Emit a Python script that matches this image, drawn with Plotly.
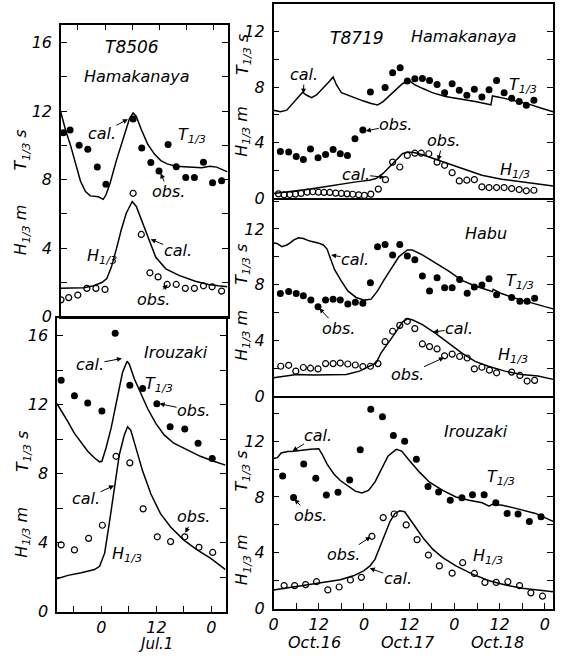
import plotly.graph_objects as go

W, H = 563, 659

# ---------------- DATA ----------------
# T8506 Hamakanaya (hours from Jul.1 00h)
l1_t_obs_h = [-9.2, -7.7, -5.7, -3.8, -1.7, 0.2, 6.2, 8.1, 10.1, 11.9, 13.9, 15.7, 17.8, 19.7, 21.7, 23.7, 25.7]
l1_t_obs = [10.74, 10.89, 10.0, 9.78, 8.73, 7.73, 11.54, 9.84, 9.0, 8.5, 10.05, 8.75, 8.13, 8.13, 9.01, 7.81, 7.94]
l1_t_cal_h = [-9.8, -8.7, -7.6, -6.5, -5.4, -4.3, -3.25, -1.45, -0.4, 0.2, 1.1, 2.5, 4.0, 5.4, 6.2, 6.9, 8.0, 9.4, 10.9, 12.3, 13.7, 15.6, 18.4, 21.3, 23.1, 24.6, 27.0]
l1_t_cal = [12.0, 10.9, 10.0, 8.9, 7.9, 7.3, 7.05, 7.0, 6.85, 7.1, 7.77, 9.11, 10.45, 11.56, 11.89, 11.69, 10.93, 10.07, 9.49, 9.11, 8.92, 8.78, 8.73, 8.69, 8.78, 8.73, 8.45]
l1_h_cal_h = [-9.8, -7.6, -4.7, -2.5, -0.7, 0.4, 1.4, 2.5, 3.6, 4.7, 6.0, 6.9, 8.3, 9.8, 11.2, 13.4, 16.3, 19.9, 22.8, 25.0, 27.0]
l1_h_cal = [1.65, 1.65, 1.68, 1.80, 1.99, 2.22, 2.89, 3.94, 5.09, 6.05, 6.72, 6.43, 5.47, 4.33, 3.46, 2.79, 2.41, 2.07, 1.88, 1.80, 1.74]
l1_h_obs_h = [-9.7, -8.0, -6.0, -4.0, -2.0, 0.0, 6.2, 8.0, 9.9, 11.7, 13.7, 15.7, 17.7, 19.7, 21.7, 23.6, 25.7]
l1_h_obs = [0.98, 1.11, 1.26, 1.65, 1.65, 1.59, 7.2, 4.80, 2.56, 2.32, 1.88, 1.88, 1.65, 1.65, 1.80, 1.74, 1.49]

# T8506 Irouzaki
l2_t_obs_h = [-8.8, -5.9, -3.0, 0.1, 3.0, 6.2, 9.0, 12.1, 15.0, 18.2, 21.1, 24.2]
l2_t_obs = [13.43, 12.53, 12.11, 11.64, 16.15, 13.14, 12.95, 12.06, 10.72, 10.59, 9.77, 8.88]
l2_t_cal_h = [-9.7, -8.8, -7.3, -5.9, -4.4, -3.0, -1.5, -0.4, 0.1, 1.0, 2.1, 3.5, 4.6, 5.6, 6.1, 7.2, 8.6, 10.1, 11.9, 13.7, 15.8, 18.7, 21.6, 24.5, 27.1]
l2_t_cal = [12.06, 11.68, 11.01, 10.34, 9.77, 9.30, 8.91, 8.69, 8.72, 9.49, 10.63, 12.34, 13.87, 14.53, 14.34, 13.49, 12.63, 11.77, 10.91, 10.25, 9.77, 9.39, 9.01, 8.72, 8.50]
l2_h_cal_h = [-9.7, -7.3, -4.4, -1.5, -0.4, 0.7, 1.7, 2.8, 3.9, 5.0, 5.7, 6.4, 7.5, 9.0, 10.8, 12.9, 15.1, 18.0, 20.9, 23.8, 27.1]
l2_h_cal = [1.90, 2.10, 2.25, 2.44, 2.63, 3.39, 5.10, 7.2, 9.1, 10.25, 10.72, 10.53, 9.49, 8.15, 6.82, 5.68, 4.91, 4.15, 3.58, 3.10, 2.44]
l2_h_obs_h = [-8.8, -5.9, -2.8, 0.2, 3.2, 6.2, 9.1, 12.2, 15.1, 18.2, 21.3, 24.3]
l2_h_obs = [3.87, 3.58, 4.25, 5.01, 9.01, 8.63, 5.96, 4.34, 4.06, 4.34, 3.73, 3.43]

# T8719 Hamakanaya (hours from Oct.16 00h)
r1_t_obs_h = [1.8, 4.0, 6.0, 7.9, 9.8, 11.8, 13.8, 15.8, 17.7, 19.6, 21.6, 23.7, 25.7, 29.6, 31.6, 33.6, 35.5, 37.5, 39.5, 41.4, 43.4, 45.4, 47.4, 49.3, 51.3, 53.3, 55.3, 57.2, 59.2, 61.2, 63.2, 65.2, 67.1, 69.1]
r1_t_obs = [3.37, 3.33, 3.02, 2.8, 3.56, 2.92, 3.16, 3.52, 3.21, 3.09, 4.28, 4.92, 7.65, 7.96, 9.03, 9.38, 8.43, 8.6, 8.62, 8.48, 8.19, 7.6, 8.24, 7.77, 7.41, 7.84, 7.29, 7.81, 8.48, 7.6, 7.2, 6.96, 6.70, 7.05]
r1_t_cal_h = [0, 1.8, 3.5, 5.3, 6.6, 7.7, 8.8, 10.1, 11.4, 13.2, 14.9, 15.8, 16.7, 18.0, 20.2, 23.7, 25.9, 27.6, 29.0, 30.7, 32.5, 34.2, 36.0, 37.3, 39.5, 42.1, 45.6, 50.0, 53.5, 57.0, 57.7, 58.1, 60.5, 64.0, 68.4, 71.1, 74.2]
r1_t_cal = [6.34, 6.22, 6.34, 6.89, 7.29, 7.62, 7.41, 7.24, 7.43, 7.91, 8.43, 8.72, 8.15, 7.6, 7.36, 7.01, 6.82, 6.72, 6.94, 7.36, 7.84, 8.24, 8.48, 8.19, 7.91, 7.6, 7.32, 7.13, 6.96, 6.77, 6.72, 7.36, 7.24, 7.01, 6.72, 6.48, 6.22]
r1_h_cal_h = [0, 4.4, 8.8, 13.2, 17.5, 21.9, 25.4, 27.2, 29.0, 30.7, 32.5, 34.2, 35.5, 37.3, 39.5, 42.1, 45.6, 50.0, 55.3, 60.5, 65.8, 74.2]
r1_h_cal = [0.36, 0.48, 0.64, 0.83, 1.02, 1.19, 1.31, 1.43, 1.78, 2.26, 2.73, 3.21, 3.33, 3.30, 3.14, 2.90, 2.57, 2.14, 1.66, 1.38, 1.19, 0.90]
r1_h_obs_h = [1.3, 2.8, 4.3, 5.8, 7.3, 8.9, 10.4, 11.9, 13.4, 14.9, 16.5, 18.0, 19.5, 21.0, 22.6, 24.1, 25.8, 27.8, 29.7, 31.6, 33.5, 35.5, 37.5, 39.2, 41.2, 43.4, 45.4, 47.4, 49.3, 51.3, 53.3, 55.3, 57.2, 59.2, 61.2, 63.2, 65.2, 67.1, 69.1]
r1_h_obs = [0.33, 0.26, 0.28, 0.31, 0.36, 0.45, 0.48, 0.45, 0.43, 0.43, 0.38, 0.36, 0.33, 0.30, 0.26, 0.22, 0.31, 0.67, 1.35, 2.61, 2.26, 3.09, 3.25, 3.25, 3.21, 2.61, 2.38, 1.85, 1.26, 1.31, 1.35, 0.83, 0.78, 0.78, 0.78, 0.71, 0.64, 0.55, 0.59]

# T8719 Habu
r2_t_obs_h = [1.8, 4.0, 6.0, 7.9, 9.9, 11.8, 13.8, 15.8, 17.7, 19.7, 21.7, 23.7, 25.7, 27.6, 29.6, 31.6, 33.5, 35.5, 37.5, 39.5, 41.4, 43.4, 45.4, 47.4, 49.4, 51.4, 53.3, 55.3, 57.2, 59.2, 63.2, 65.4, 67.3, 69.3]
r2_t_obs = [7.37, 7.51, 7.37, 7.21, 6.9, 6.43, 6.9, 6.97, 6.9, 6.62, 6.74, 6.67, 8.15, 10.73, 10.89, 10.14, 10.89, 10.07, 9.79, 8.62, 7.56, 8.5, 7.79, 7.79, 8.38, 7.39, 7.84, 7.98, 8.43, 7.28, 7.09, 6.81, 6.81, 7.04]
r2_t_cal_h = [0, 0.9, 2.2, 3.5, 4.4, 5.3, 6.6, 7.9, 9.6, 11.8, 13.2, 14.2, 14.9, 16.2, 18.0, 19.7, 21.9, 24.1, 25.9, 27.6, 29.4, 31.6, 33.3, 35.5, 36.8, 39.5, 43.0, 46.5, 50.0, 53.5, 57.0, 58.1, 58.3, 60.5, 64.9, 69.3, 74.2]
r2_t_cal = [11.0, 10.96, 10.73, 10.85, 11.0, 11.2, 11.36, 11.31, 11.13, 11.0, 10.85, 10.56, 10.02, 9.08, 8.26, 7.56, 7.09, 6.9, 6.97, 7.56, 8.38, 9.32, 10.02, 10.49, 10.49, 10.14, 9.55, 8.97, 8.31, 7.91, 7.61, 7.51, 7.68, 7.37, 6.97, 6.62, 6.27]
r2_h_cal_h = [0, 2.6, 6.1, 10.5, 14.9, 19.3, 22.8, 25.4, 27.2, 28.5, 30.7, 32.5, 34.2, 35.5, 36.8, 39.5, 43.0, 46.5, 50.0, 53.5, 57.0, 61.4, 65.8, 70.2, 74.2]
r2_h_cal = [1.34, 1.46, 1.57, 1.53, 1.53, 1.57, 1.81, 2.16, 2.39, 3.10, 3.92, 4.62, 5.33, 5.56, 5.49, 5.14, 4.51, 3.80, 3.10, 2.51, 2.16, 1.81, 1.57, 1.46, 1.22]
r2_h_obs_h = [1.9, 4.0, 5.9, 7.9, 9.8, 11.8, 13.8, 15.8, 17.7, 19.7, 21.7, 23.7, 25.7, 27.7, 29.6, 31.6, 33.5, 35.5, 37.5, 39.5, 41.4, 43.4, 45.4, 47.4, 49.4, 51.4, 53.3, 55.3, 57.3, 59.2, 63.2, 65.4, 67.3, 69.3]
r2_h_obs = [2.16, 2.23, 1.81, 2.07, 2.02, 1.97, 2.35, 2.35, 2.39, 2.32, 2.25, 2.14, 2.16, 2.35, 3.92, 4.67, 5.09, 5.38, 4.86, 3.76, 3.57, 3.40, 2.91, 3.03, 2.86, 2.75, 1.97, 2.09, 1.88, 1.69, 1.74, 1.50, 1.10, 1.15]

# T8719 Irouzaki
r3_t_obs_h = [2.4, 5.3, 8.0, 11.2, 14.0, 17.1, 20.2, 23.0, 25.8, 28.9, 31.8, 34.8, 37.9, 41.0, 43.8, 46.9, 50.0, 52.8, 55.9, 59.0, 62.0, 64.9, 67.9, 71.0]
r3_t_obs = [9.51, 7.97, 10.37, 9.34, 8.14, 8.33, 9.22, 11.38, 14.28, 13.74, 12.4, 12.0, 10.71, 8.75, 8.35, 7.76, 7.95, 8.16, 8.16, 7.58, 6.82, 6.78, 6.24, 6.59]
r3_t_cal_h = [0, 1.0, 2.0, 3.7, 5.3, 7.2, 9.8, 12.0, 12.9, 14.2, 16.0, 17.7, 19.5, 21.7, 23.4, 25.2, 26.9, 28.7, 30.4, 32.6, 34.0, 36.1, 38.8, 41.4, 44.9, 48.4, 51.9, 55.4, 57.2, 58.1, 60.7, 65.1, 69.5, 74.2]
r3_t_cal = [10.75, 10.82, 11.15, 11.25, 11.27, 11.34, 11.41, 11.46, 11.06, 10.35, 9.65, 9.18, 8.82, 8.42, 8.28, 8.47, 9.06, 10.0, 10.94, 11.41, 11.29, 10.59, 9.76, 9.06, 8.47, 8.0, 7.76, 7.58, 7.34, 7.48, 7.41, 7.13, 6.82, 6.25]
r3_h_cal_h = [0, 4.6, 9.0, 13.3, 17.7, 21.2, 23.9, 25.6, 26.9, 28.3, 29.6, 30.9, 32.2, 33.5, 34.8, 37.0, 39.7, 42.3, 44.9, 48.4, 52.8, 57.2, 61.6, 66.0, 70.4, 74.2]
r3_h_cal = [1.34, 1.53, 1.72, 1.88, 2.07, 2.35, 2.71, 3.06, 3.53, 4.47, 5.41, 6.24, 6.82, 7.01, 6.94, 6.12, 5.06, 4.24, 3.65, 3.06, 2.47, 2.0, 1.69, 1.46, 1.32, 1.2]
r3_h_obs_h = [2.8, 5.6, 8.5, 11.4, 14.4, 17.4, 20.4, 23.3, 26.1, 29.1, 32.0, 35.2, 38.1, 41.1, 44.0, 47.4, 50.2, 53.3, 56.1, 59.1, 62.2, 65.3, 68.3, 71.4]
r3_h_obs = [1.65, 1.65, 1.72, 1.93, 1.34, 1.55, 2.05, 2.24, 5.18, 6.52, 6.78, 6.0, 4.94, 3.84, 3.06, 2.54, 3.29, 2.52, 1.88, 1.88, 1.93, 1.65, 1.13, 0.89]

# tick labels
left_x_ticks = [-6, 0, 6, 12, 18, 24]
left_x_text = ["", "0", "", "12", "", "0"]
right_x_ticks = [0, 6, 12, 18, 24, 30, 36, 42, 48, 54, 60, 66, 72]
right_x_text = ["0", "", "12", "", "0", "", "12", "", "0", "", "12", "", "0"]

# ---------------- FIGURE ----------------
FONT = "DejaVu Sans"
fig = go.Figure()

# panel pixel boxes; stacked panels share their boundary line (offset by the line width)
panels = [
    dict(px=(56.5, 224.5), py=(25, 321.5), xr=(-9.7, 27.0), yr=(0, 17.05), ymax=16, xt="top",
         data=(l1_t_cal_h, l1_t_cal, l1_h_cal_h, l1_h_cal, l1_t_obs_h, l1_t_obs, l1_h_obs_h, l1_h_obs)),
    dict(px=(52.5, 222.5), py=(323, 621), xr=(-9.7, 27.1), yr=(0, 17.03), ymax=16, xt="bottom_left",
         data=(l2_t_cal_h, l2_t_cal, l2_h_cal_h, l2_h_cal, l2_t_obs_h, l2_t_obs, l2_h_obs_h, l2_h_obs)),
    dict(px=(271, 553), py=(4, 201.5), xr=(0, 74.2), yr=(0, 13.97), ymax=12, xt=None,
         data=(r1_t_cal_h, r1_t_cal, r1_h_cal_h, r1_h_cal, r1_t_obs_h, r1_t_obs, r1_h_obs_h, r1_h_obs)),
    dict(px=(271, 553), py=(203, 402.5), xr=(0, 74.2), yr=(0, 14.08), ymax=12, xt=None,
         data=(r2_t_cal_h, r2_t_cal, r2_h_cal_h, r2_h_cal, r2_t_obs_h, r2_t_obs, r2_h_obs_h, r2_h_obs)),
    dict(px=(271, 553), py=(404, 618), xr=(0, 74.2), yr=(0, 15.1), ymax=12, xt="bottom_right",
         data=(r3_t_cal_h, r3_t_cal, r3_h_cal_h, r3_h_cal, r3_t_obs_h, r3_t_obs, r3_h_obs_h, r3_h_obs)),
]

tickfont = dict(family=FONT, size=16, color="black", style="italic")

for i, p in enumerate(panels, start=1):
    xa = "x" if i == 1 else f"x{i}"
    ya = "y" if i == 1 else f"y{i}"
    tch, tc, hch, hc, toh, to, hoh, ho = p["data"]
    for xs, ys in ((tch, tc), (hch, hc)):
        fig.add_trace(go.Scatter(x=xs, y=ys, mode="lines", xaxis=xa, yaxis=ya,
                                 line=dict(color="black", width=1.5), showlegend=False, hoverinfo="skip"))
    fig.add_trace(go.Scatter(x=toh, y=to, mode="markers", xaxis=xa, yaxis=ya,
                             marker=dict(symbol="circle", size=7, color="black"), showlegend=False))
    fig.add_trace(go.Scatter(x=hoh, y=ho, mode="markers", xaxis=xa, yaxis=ya,
                             marker=dict(symbol="circle-open", size=6, color="black", line=dict(width=1.2)),
                             showlegend=False))

    x0, x1 = p["px"]
    yt, yb = p["py"]
    xdom = [x0 / W, x1 / W]
    ydom = [(H - yb) / H, (H - yt) / H]
    yvals = list(range(0, int(p["yr"][1]) + 1, 2))
    ytext = [str(v) if (v % 4 == 0 and v <= p["ymax"]) else "" for v in yvals]
    yax = dict(domain=ydom, range=list(p["yr"]), anchor=xa, showline=True, mirror="allticks",
               linecolor="black", linewidth=1.5, ticks="inside", ticklen=6, tickwidth=1.2,
               tickcolor="black", tickvals=yvals, ticktext=ytext, tickfont=tickfont,
               showgrid=False, zeroline=False, ticklabelstandoff=4, fixedrange=True)
    xax = dict(domain=xdom, range=list(p["xr"]), anchor=ya, showline=True, mirror=True,
               linecolor="black", linewidth=1.5, showgrid=False, zeroline=False, fixedrange=True,
               tickfont=dict(family=FONT, size=16, color="black", style="italic"))
    if p["xt"] == "top":
        xax.update(side="top", ticks="inside", ticklen=6, tickwidth=1.2, tickcolor="black",
                   tickvals=left_x_ticks, showticklabels=False)
    elif p["xt"] == "bottom_left":
        xax.update(ticks="inside", ticklen=6, tickwidth=1.2, tickcolor="black",
                   tickvals=left_x_ticks, ticktext=left_x_text)
    elif p["xt"] == "bottom_right":
        xax.update(ticks="inside", ticklen=6, tickwidth=1.2, tickcolor="black",
                   tickvals=right_x_ticks, ticktext=right_x_text)
    else:
        xax.update(ticks="", showticklabels=False)
    fig.layout["xaxis" if i == 1 else f"xaxis{i}"] = xax
    fig.layout["yaxis" if i == 1 else f"yaxis{i}"] = yax

T13 = "T<sub>1/3</sub>"
H13 = "H<sub>1/3</sub>"
anns = []


def ann(text, tx, ty, tip=None, size=16, angle=0):
    f = dict(family=FONT, size=size, color="black", style="italic")
    if tip is None:
        anns.append(dict(x=tx / W, y=1 - ty / H, xref="paper", yref="paper", text=text,
                         showarrow=False, font=f, xanchor="center", yanchor="middle", textangle=angle))
    else:
        px_, py_ = tip
        anns.append(dict(x=px_ / W, y=1 - py_ / H, xref="paper", yref="paper", text=text,
                         showarrow=True, ax=tx - px_, ay=ty - py_, axref="pixel", ayref="pixel",
                         arrowhead=2, arrowsize=1, arrowwidth=1, arrowcolor="black", standoff=0,
                         font=f, borderpad=0))


# left column
ann("T8506", 128, 48, size=17)
ann("Hamakanaya", 133, 78)
ann("cal.", 98, 135, (124, 121))
ann(T13, 189, 138)
ann("obs.", 165, 194, (157, 176))
ann(H13, 98, 260)
ann("cal.", 174, 254, (147, 243))
ann("obs.", 150, 304, (164, 289))
ann(T13 + " s", 17, 152, angle=-90)
ann(H13 + " m", 17, 233, angle=-90)

ann("Irouzaki", 173, 358)
ann("cal.", 86, 370, (118, 364))
ann(T13, 155, 390)
ann("obs.", 190, 417, (156, 410))
ann("cal.", 82, 506, (110, 493))
ann("obs.", 190, 525, (182, 541))
ann(H13, 123, 563)
ann(T13 + " s", 18, 458, angle=-90)
ann(H13 + " m", 18, 540, angle=-90)
ann("Jul.1", 152, 654, size=15)

# right column
ann("T8719", 355, 39, size=17)
ann("Hamakanaya", 463, 37)
ann("cal.", 302, 76, (301, 95))
ann(T13, 523, 87)
ann("obs.", 394, 127, (364, 133))
ann("obs.", 442, 143, (437, 163))
ann("cal.", 354, 177, (383, 180))
ann(H13, 515, 173)
ann(T13 + " s", 240, 55, angle=-90)
ann(H13 + " m", 240, 133, angle=-90)

ann("Habu", 485, 237)
ann("cal.", 353, 263, (329, 259))
ann(T13, 520, 286)
ann("obs.", 336, 333, (317, 313))
ann("cal.", 458, 334, (432, 337))
ann(H13, 513, 361)
ann("obs.", 406, 380, (443, 363))
ann(T13 + " s", 240, 268, angle=-90)
ann(H13 + " m", 240, 340, angle=-90)

ann("Irouzaki", 475, 438)
ann("cal.", 316, 442, (290, 458))
ann(T13, 500, 485)
ann("obs.", 308, 523, (292, 507))
ann("obs.", 342, 563, (369, 545))
ann("cal.", 396, 587, (368, 577))
ann(H13, 487, 565)
ann(T13 + " s", 240, 478, angle=-90)
ann(H13 + " m", 240, 568, angle=-90)
ann("Oct.16", 312, 652, size=16)
ann("Oct.17", 407, 652, size=16)
ann("Oct.18", 497, 652, size=16)

fig.update_layout(width=W, height=H, margin=dict(l=0, r=0, t=0, b=0),
                  paper_bgcolor="white", plot_bgcolor="white", annotations=anns,
                  showlegend=False)

post = ("document.documentElement.style.overflow='hidden';"
        "document.body.style.margin='0';document.body.style.overflow='hidden';"
        "var gd=document.getElementById('{plot_id}');"
        "gd.style.position='fixed';gd.style.left='0px';gd.style.top='0px';")

fig.write_html("out.html", config={"displayModeBar": False}, post_script=post)
